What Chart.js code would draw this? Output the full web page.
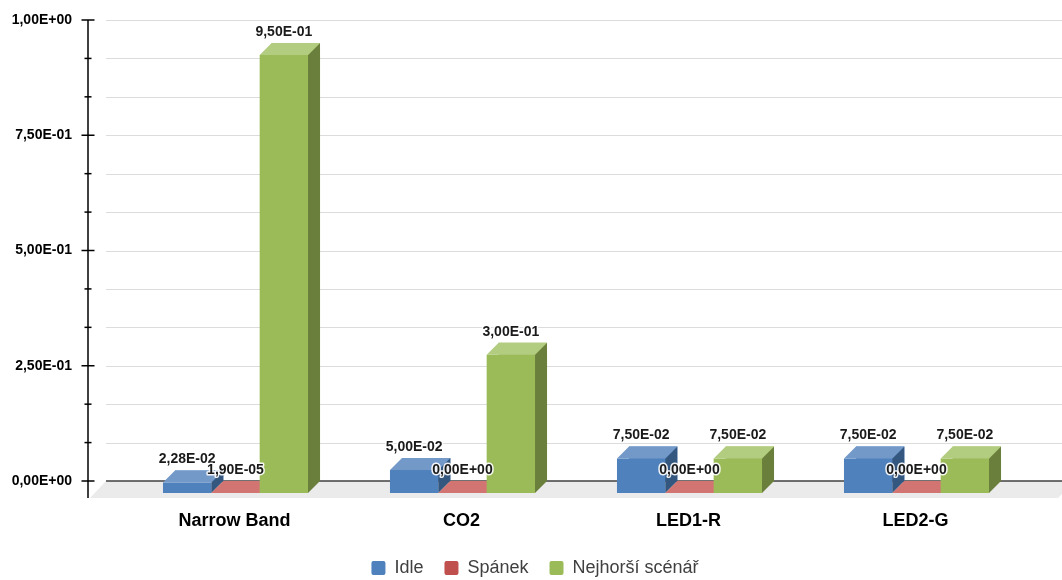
<!DOCTYPE html>
<html>
<head>
<meta charset="utf-8">
<script src="https://cdn.jsdelivr.net/npm/chart.js@4/dist/chart.umd.min.js"></script>
<style>
    html, body { margin: 0; padding: 0; background: #fff; }
    #wrap { width: 1062px; height: 580px; }
</style>
</head>
<body>
<div id="wrap"><canvas id="myChart" width="1062" height="580"></canvas></div>
<script>
const categories = ['Narrow Band', 'CO2', 'LED1-R', 'LED2-G']
const seriesNames = ['Idle', 'Spánek', 'Nejhorší scénář']
const idleValues = [0.0228, 0.05, 0.075, 0.075]
const spanekValues = [0.000019, 0, 0, 0]
const worstValues = [0.95, 0.3, 0.075, 0.075]
const yTicks = [0, 0.25, 0.5, 0.75, 1]

const frontColors = ['#4f81bd', '#c0504d', '#9bbb59']
const topColors = ['#7399c9', '#d27572', '#b2cc80']
const sideColors = ['#34577f', '#8c3836', '#6a7f3c']
const depth = 12

function sciLabel(v) {
    let parts = v.toExponential(2).split('e')
    let exp = parseInt(parts[1])
    let sign = exp < 0 ? '-' : '+'
    let e = String(Math.abs(exp)).padStart(2, '0')
    return parts[0].replace('.', ',') + 'E' + sign + e
}

function poly(ctx, pts, color) {
    ctx.beginPath()
    ctx.moveTo(pts[0][0], pts[0][1])
    for (let i = 1; i < pts.length; i++)
        ctx.lineTo(pts[i][0], pts[i][1])
    ctx.closePath()
    ctx.fillStyle = color
    ctx.fill()
}

const backdrop = {
    id: 'backdrop',
    afterLayout(chart) {
        // legend sits a bit right of the canvas centre
        chart.legend.left = 28
    },
    beforeDatasetsDraw(chart) {
        const ctx = chart.ctx
        const area = chart.chartArea
        const y = chart.scales.y
        const axisX = area.left - 46
        const wallX = area.left - 28
        const right = chart.width
        ctx.save()
        // grid lines on the back wall
        ctx.strokeStyle = '#dcdcdc'
        ctx.lineWidth = 1
        y.ticks.forEach(t => {
            if (t.value === 0) return
            let py = Math.round(y.getPixelForValue(t.value)) + 0.5
            ctx.beginPath()
            ctx.moveTo(wallX, py)
            ctx.lineTo(right, py)
            ctx.stroke()
        })
        // floor
        let zy = y.getPixelForValue(0)
        poly(ctx, [[wallX, zy], [right, zy], [right, zy + 13], [right - 4, zy + 17], [wallX - 16, zy + 17]], '#ebebeb')
        ctx.strokeStyle = '#404040'
        ctx.lineWidth = 1.5
        ctx.beginPath()
        ctx.moveTo(wallX, zy)
        ctx.lineTo(right, zy)
        ctx.stroke()
        // value axis with cross ticks
        ctx.strokeStyle = '#000'
        ctx.lineWidth = 1.5
        ctx.beginPath()
        ctx.moveTo(axisX, y.getPixelForValue(1))
        ctx.lineTo(axisX, zy + 17)
        ctx.stroke()
        y.ticks.forEach(t => {
            let py = y.getPixelForValue(t.value)
            let major = yTicks.some(v => Math.abs(v - t.value) < 1e-6)
            let half = major ? 6.5 : 3.5
            ctx.beginPath()
            ctx.moveTo(axisX - half, py)
            ctx.lineTo(axisX + half, py)
            ctx.stroke()
        })
        ctx.restore()
    },
    afterDatasetsDraw(chart) {
        const ctx = chart.ctx
        const metas = [0, 1, 2].map(i => chart.getDatasetMeta(i))
        ctx.save()
        for (let c = 0; c < categories.length; c++) {
            for (let d = 0; d < metas.length; d++) {
                let bar = metas[d].data[c]
                let p = bar.getProps(['x', 'y', 'base', 'width'], true)
                let l = p.x - p.width / 2 - depth
                let r = p.x + p.width / 2 - depth
                let top = p.y + depth
                let bottom = p.base + depth
                if (bottom - top > 0.5)
                    poly(ctx, [[l, top], [r, top], [r, bottom], [l, bottom]], frontColors[d])
                poly(ctx, [[r, top], [r + depth, top - depth], [r + depth, bottom - depth], [r, bottom]], sideColors[d])
                poly(ctx, [[l, top], [l + depth, top - depth], [r + depth, top - depth], [r, top]], topColors[d])
            }
        }
        ctx.font = 'bold 14px "Liberation Sans", Arial, sans-serif'
        ctx.textAlign = 'center'
        ctx.textBaseline = 'middle'
        ctx.lineJoin = 'round'
        for (let c = 0; c < categories.length; c++) {
            for (let d = 0; d < metas.length; d++) {
                let bar = metas[d].data[c]
                let value = chart.data.datasets[d].data[c]
                let text = sciLabel(value)
                let tx = bar.x - depth
                let ty = bar.y - 11
                ctx.strokeStyle = 'rgba(255,255,255,0.9)'
                ctx.lineWidth = 3
                ctx.strokeText(text, tx, ty)
                ctx.fillStyle = '#1a1a1a'
                ctx.fillText(text, tx, ty)
            }
        }
        ctx.restore()
    }
}

const data = {
    labels: categories,
    datasets: [idleValues, spanekValues, worstValues].map((vals, i) => ({
        label: seriesNames[i],
        data: vals,
        backgroundColor: frontColors[i],
        borderWidth: 0,
        categoryPercentage: 0.639,
        barPercentage: 1.0
    }))
}

const config = {
    type: 'bar',
    data: data,
    plugins: [backdrop],
    options: {
        responsive: false,
        animation: false,
        layout: { padding: { top: 20, left: 0, right: 20, bottom: -7 } },
        plugins: {
            tooltip: { enabled: false },
            legend: {
                position: 'bottom',
                labels: {
                    boxWidth: 14,
                    boxHeight: 14,
                    useBorderRadius: true,
                    borderRadius: 2,
                    padding: 21,
                    color: '#404040',
                    font: { family: '"Liberation Sans", Arial, sans-serif', size: 18 }
                }
            }
        },
        scales: {
            x: {
                grid: { display: false },
                border: { display: false },
                ticks: {
                    padding: 21,
                    labelOffset: -13,
                    color: '#000',
                    font: { family: '"Liberation Sans", Arial, sans-serif', size: 18, weight: 'bold' }
                },
                afterFit(scale) { scale.height = 57 }
            },
            y: {
                min: 0,
                max: 1,
                grid: { display: false },
                border: { display: false },
                ticks: {
                    stepSize: 1 / 12,
                    padding: 54,
                    color: '#000',
                    font: { family: '"Liberation Sans", Arial, sans-serif', size: 14, weight: 'bold' },
                    callback: function (value) {
                        let major = yTicks.find(v => Math.abs(v - value) < 1e-6)
                        return major === undefined ? '' : sciLabel(major)
                    }
                },
                afterFit(scale) {
                    scale.width = 134
                    scale.paddingTop = 8
                    scale.paddingBottom = 8
                }
            }
        }
    }
}

let ctx = document.getElementById('myChart').getContext('2d')
new Chart(ctx, config)
</script>
</body>
</html>
